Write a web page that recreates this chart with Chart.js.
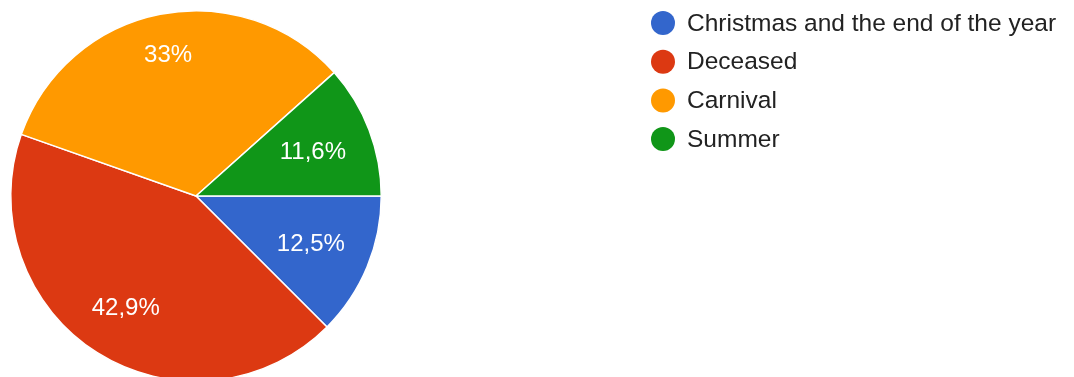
<!DOCTYPE html>
<html>
<head>
<meta charset="utf-8">
<script src="https://cdn.jsdelivr.net/npm/chart.js@4"></script>
<style>
  html, body { margin: 0; padding: 0; background: #fff; overflow: hidden; }
  #wrap { width: 1074px; height: 400px; }
</style>
</head>
<body>
<div id="wrap"><canvas id="pieChart"></canvas></div>
<script>
// data
const categories = ["Christmas and the end of the year", "Deceased", "Carnival", "Summer"];
const shares = [12.5, 42.9, 33, 11.6];
const sliceColors = ["#3366cc", "#dc3912", "#ff9900", "#109618"];

const FONT = '"Liberation Sans", Arial, sans-serif';

function fmtPct(v) {
  return String(v).replace(".", ",") + "%";
}

// percentage labels inside slices, pushed out so the text box's outer corner sits near 0.86 r
const sliceLabels = {
  id: "sliceLabels",
  afterDatasetsDraw(chart) {
    const ctx = chart.ctx;
    const meta = chart.getDatasetMeta(0);
    ctx.save();
    ctx.font = "24px " + FONT;
    ctx.fillStyle = "#ffffff";
    ctx.textAlign = "center";
    ctx.textBaseline = "middle";
    meta.data.forEach((arc, i) => {
      const p = arc.getProps(["x", "y", "startAngle", "endAngle", "outerRadius"], true);
      const mid = (p.startAngle + p.endAngle) / 2;
      const cx = Math.cos(mid), cy = Math.sin(mid);
      const txt = fmtPct(chart.data.datasets[0].data[i]);
      const w = ctx.measureText(txt).width, h = 18;
      const ox = Math.sign(cx) * w / 2, oy = Math.sign(cy) * h / 2;
      const R = p.outerRadius * 0.86;
      const dot = cx * ox + cy * oy;
      const d = -dot + Math.sqrt(dot * dot - (ox * ox + oy * oy) + R * R);
      ctx.fillText(txt, p.x + cx * d, p.y + cy * d + 1);
    });
    ctx.restore();
  }
};

// legend to the right, circle markers
const sideLegend = {
  id: "sideLegend",
  afterDraw(chart) {
    const ctx = chart.ctx;
    const colors = chart.data.datasets[0].backgroundColor;
    ctx.save();
    ctx.font = "24.5px " + FONT;
    ctx.textBaseline = "middle";
    chart.data.labels.forEach((lbl, i) => {
      const y = 23 + i * 38.7;
      ctx.beginPath();
      ctx.arc(663, y, 12, 0, Math.PI * 2);
      ctx.fillStyle = colors[i];
      ctx.fill();
      ctx.fillStyle = "#222222";
      ctx.fillText(lbl, 687, y + 1);
    });
    ctx.restore();
  }
};

new Chart(document.getElementById("pieChart"), {
  type: "pie",
  data: {
    labels: categories,
    datasets: [{
      data: shares,
      backgroundColor: sliceColors,
      borderColor: "#ffffff",
      borderWidth: 1.5
    }]
  },
  options: {
    responsive: true,
    maintainAspectRatio: false,
    animation: false,
    rotation: 90,
    layout: { padding: { left: 10, top: 10, right: 692, bottom: 18 } },
    plugins: {
      legend: { display: false },
      tooltip: { enabled: false }
    }
  },
  plugins: [sliceLabels, sideLegend]
});
</script>
</body>
</html>
